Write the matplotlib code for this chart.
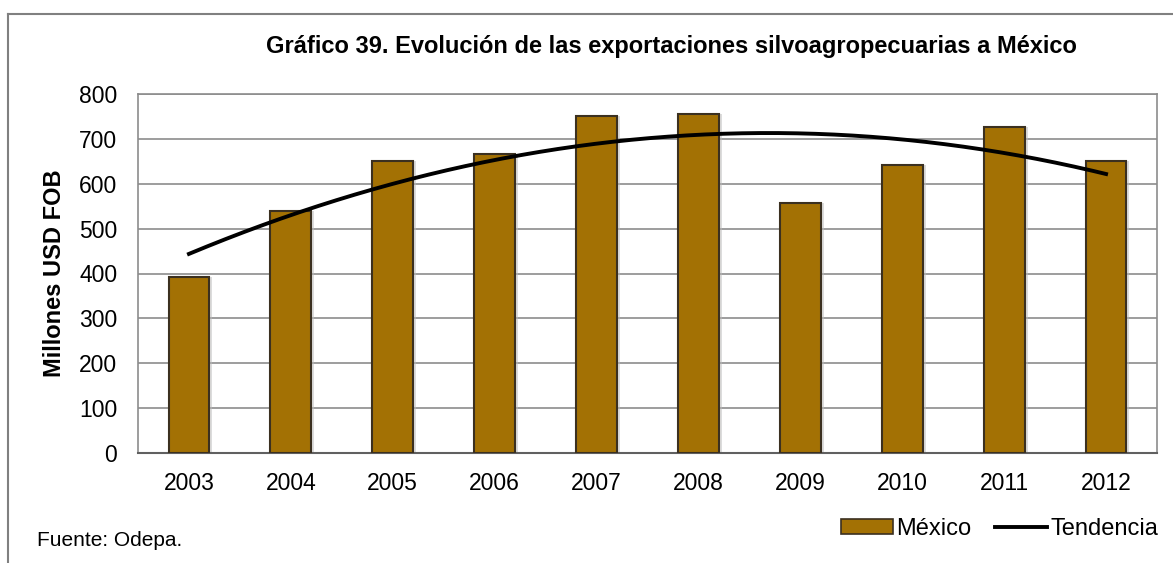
import numpy as np
import matplotlib
matplotlib.use("Agg")
import matplotlib.pyplot as plt
from matplotlib.lines import Line2D
from matplotlib.patches import Patch

plt.rcParams['font.family'] = ['Liberation Sans', 'DejaVu Sans']

years = ['2003', '2004', '2005', '2006', '2007', '2008', '2009', '2010', '2011', '2012']
mexico = [392, 539, 650, 666, 750, 755, 557, 641, 726, 650]
yticks = [0, 100, 200, 300, 400, 500, 600, 700, 800]

W, H = 1173, 563
fig = plt.figure(figsize=(W / 100, H / 100), dpi=100)

# outer frame
fig.add_artist(Line2D([8 / W, 8 / W], [0, 1 - 14 / H], color='#808080', lw=1.5))
fig.add_artist(Line2D([8 / W, 1], [1 - 14 / H, 1 - 14 / H], color='#808080', lw=1.5))

left, right, top, bottom = 138, 1157, 94, 453
ax = fig.add_axes([left / W, 1 - bottom / H, (right - left) / W, (bottom - top) / H])

x = np.arange(len(years))
bar_color = '#A37104'
edge_color = '#3b3020'
# soft shadow
ax.bar(x + 0.03, mexico, width=0.4, color='#bbbbbb', alpha=0.5, zorder=2, linewidth=0)
ax.bar(x, mexico, width=0.4, color=bar_color, edgecolor=edge_color, linewidth=1.5, zorder=3)

# polynomial trend (order 2), as in the original
coef = np.polyfit(x, mexico, 2)
xs = np.linspace(0, len(years) - 1, 200)
ax.plot(xs, np.polyval(coef, xs), color='black', lw=2.8, zorder=4)

ax.set_xlim(-0.5, len(years) - 0.5)
ax.set_ylim(0, 800)
ax.set_yticks(yticks)
ax.set_xticks(x)
ax.set_xticklabels(years)
ax.tick_params(axis='both', length=0, labelsize=16.5, colors='black')
ax.tick_params(axis='x', pad=14)
ax.tick_params(axis='y', pad=15)
ax.yaxis.grid(True, color='#8c8c8c', lw=1.2, zorder=0)
ax.set_axisbelow(True)
for s in ['left', 'right', 'top']:
    ax.spines[s].set_color('#8c8c8c')
    ax.spines[s].set_linewidth(1.2)
ax.spines['bottom'].set_color('#606060')
ax.spines['bottom'].set_linewidth(1.5)

fig.text(55 / W, 1 - 273 / H, 'Millones USD FOB', rotation=90, ha='center', va='center',
         fontsize=17, fontweight='bold')
fig.text(671 / W, 1 - 47 / H,
         'Gráfico 39. Evolución de las exportaciones silvoagropecuarias a México',
         ha='center', va='center', fontsize=17, fontweight='bold')
fig.text(37 / W, 1 - 541 / H, 'Fuente: Odepa.', ha='left', va='center', fontsize=15)

handles = [Patch(facecolor=bar_color, edgecolor=edge_color, linewidth=1.2),
           Line2D([0], [0], color='black', lw=2.8)]
fig.legend(handles, ['México', 'Tendencia'], loc='center right',
           bbox_to_anchor=(1170 / W, 1 - 529 / H), ncol=2, frameon=False,
           fontsize=17, handlelength=2.2, handletextpad=0.15, columnspacing=1.0,
           handleheight=0.6, borderpad=0)

fig.savefig('out.png', dpi=100)
